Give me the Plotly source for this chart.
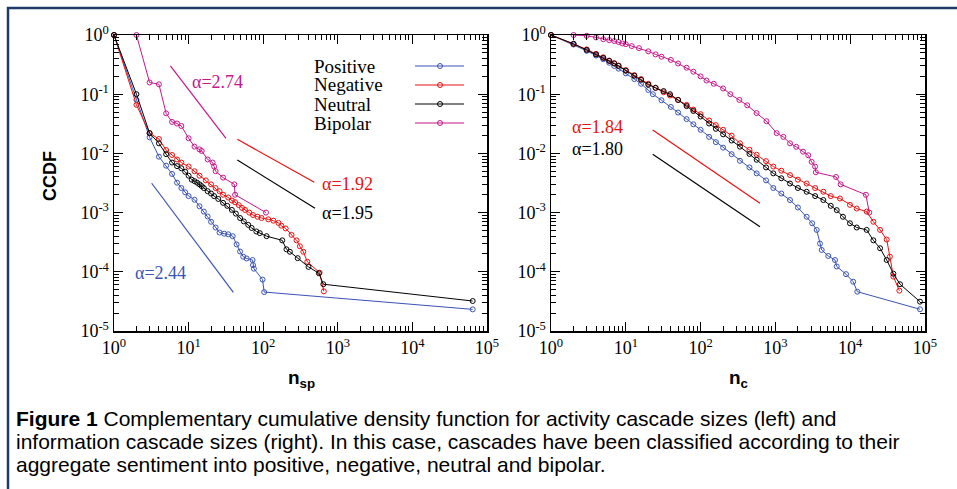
import plotly.graph_objects as go

W, H = 957, 489

# ---------------- data: left panel (activity cascades, n_sp) ----------------
sp_pos_x = [1, 2, 3, 4, 5, 6, 7, 8, 9, 10, 12, 14, 16, 18, 20, 23, 26, 30, 34, 39, 44, 49, 54, 60, 72, 73, 75, 98, 103, 64300]
sp_pos_y = [1, 0.08, 0.0187, 0.0088, 0.0062, 0.0045, 0.0032, 0.0026, 0.0022, 0.0019, 0.00165, 0.00128, 0.00104, 0.00086,
            0.0007, 0.00056, 0.00046, 0.00044, 0.00043, 0.0004, 0.00029, 0.00022, 0.00018, 0.000168, 0.000158, 0.00013,
            0.000113, 0.000074, 0.0000455, 0.0000232]

sp_neg_x = [1, 2, 3, 4, 5, 6, 7, 8, 10, 12, 14, 17, 20, 23, 26, 29, 34, 38, 42, 47, 52, 57, 65, 73, 84, 95, 117, 137,
            160, 175, 200, 240, 280, 310, 345, 390, 570, 650]
sp_neg_y = [1, 0.066, 0.022, 0.0175, 0.0114, 0.0094, 0.0079, 0.007, 0.006, 0.005, 0.0042, 0.0035, 0.003, 0.0026, 0.0023,
            0.002, 0.0018, 0.0016, 0.0015, 0.00134, 0.0012, 0.00111, 0.001, 0.00091, 0.00085, 0.00081, 0.00077, 0.00073,
            0.00067, 0.0006, 0.00054, 0.00042, 0.00034, 0.00027, 0.000218, 0.000148, 0.0000967, 0.0000468]

sp_neu_x = [1, 2, 3, 4, 5, 6, 7, 8, 9, 10, 11, 12, 13, 14, 15, 16, 18, 20, 22, 25, 29, 33, 38, 43, 49, 55, 63, 70, 81,
            90, 111, 180, 205, 228, 290, 405, 558, 640, 64300]
sp_neu_y = [1, 0.1, 0.022, 0.0148, 0.0097, 0.0070, 0.0061, 0.0056, 0.0049, 0.0042, 0.0036, 0.0034, 0.0032, 0.0030,
            0.0028, 0.0026, 0.0023, 0.0021, 0.0019, 0.0017, 0.00146, 0.0013, 0.00111, 0.00096, 0.00081, 0.00071,
            0.00062, 0.00055, 0.00048, 0.00045, 0.0004, 0.00034, 0.00024, 0.000218, 0.00017, 0.000121, 0.0000944,
            0.0000617, 0.0000321]

sp_bip_x = [2, 3, 4, 5, 6, 7, 8, 10, 12, 14, 15, 18, 21, 22, 23, 29, 41, 42, 109]
sp_bip_y = [1, 0.158, 0.147, 0.0475, 0.034, 0.032, 0.029, 0.018, 0.013, 0.0117, 0.011, 0.0079, 0.007, 0.006, 0.005,
            0.0039, 0.003, 0.002, 0.001]

# fitted power laws (left)
fit_sp_bip_x, fit_sp_bip_y = [5.7, 31.7], [0.30, 0.018]
fit_sp_neg_x, fit_sp_neg_y = [45, 484], [0.0173, 0.00325]
fit_sp_neu_x, fit_sp_neu_y = [45, 495], [0.00774, 0.00118]
fit_sp_pos_x, fit_sp_pos_y = [3.2, 39.8], [0.00313, 0.000045]

# ---------------- data: right panel (information cascades, n_c) ----------------
c_pos_x = [1, 2, 3, 4, 5, 6, 7, 8, 10, 13, 16, 20, 23, 30, 40, 50, 65, 80, 100, 130, 160, 200, 260, 336, 450, 562, 750,
           938, 1200, 1567, 2000, 2618, 3100, 3565, 3945, 4159, 5093, 6266, 6607, 8790, 10965, 12445, 85700]
c_pos_y = [1, 0.69, 0.54, 0.45, 0.39, 0.34, 0.30, 0.27, 0.225, 0.18, 0.15, 0.118, 0.1, 0.079, 0.061, 0.049, 0.038,
           0.031, 0.025, 0.019, 0.0155, 0.0125, 0.0097, 0.0075, 0.0058, 0.0046, 0.0035, 0.0026, 0.0021, 0.00163,
           0.00122, 0.00085, 0.00066, 0.00051, 0.0003, 0.000234, 0.000185, 0.000158, 0.000123, 0.0000912, 0.000068,
           0.0000461, 0.0000233]

c_neg_x = [1, 2, 3, 4, 5, 6, 7, 8, 10, 13, 16, 20, 25, 32, 39, 50, 65, 80, 100, 130, 160, 200, 260, 336, 450, 562, 750,
           938, 1200, 1567, 2000, 2618, 3400, 4375, 5500, 7300, 9931, 12220, 16600, 20400, 25100, 30760, 33900, 37760,
           45400]
c_neg_y = [1, 0.71, 0.57, 0.48, 0.42, 0.37, 0.335, 0.305, 0.255, 0.21, 0.18, 0.15, 0.128, 0.108, 0.095, 0.08, 0.066,
           0.055, 0.046, 0.036, 0.03, 0.025, 0.02, 0.0148, 0.0115, 0.0095, 0.0074, 0.006, 0.0051, 0.0043, 0.0036,
           0.0031, 0.0026, 0.00225, 0.0019, 0.00173, 0.00135, 0.00117, 0.00104, 0.0007, 0.00051, 0.00035, 0.00018,
           0.000083, 0.000048]

c_neu_x = [1, 2, 3, 4, 5, 6, 7, 8, 10, 13, 16, 20, 25, 32, 39, 50, 65, 80, 100, 130, 160, 200, 260, 336, 450, 562, 750,
           938, 1200, 1567, 2000, 2618, 3400, 4375, 5500, 6607, 8000, 9931, 12220, 16600, 20400, 25100, 30760, 37760,
           46350, 85700]
c_neu_y = [1, 0.71, 0.56, 0.47, 0.41, 0.365, 0.33, 0.30, 0.25, 0.205, 0.175, 0.145, 0.128, 0.113, 0.1, 0.08, 0.063,
           0.052, 0.042, 0.032, 0.026, 0.021, 0.0165, 0.013, 0.0098, 0.0078, 0.0058, 0.0046, 0.0038, 0.0031, 0.0026,
           0.00225, 0.0019, 0.00163, 0.0013, 0.0011, 0.00085, 0.00066, 0.00056, 0.00051, 0.00034, 0.00025, 0.000158,
           0.000093, 0.0000617, 0.0000313]

c_bip_x = [2, 3, 4, 5, 6, 7, 8, 9, 10, 12, 15, 20, 25, 30, 40, 50, 65, 80, 100, 120, 150, 200, 250, 330, 420, 560, 760,
           1040, 1280, 1570, 1900, 2340, 2750, 3050, 3390, 3470, 6460, 7460, 16200, 18000]
c_bip_y = [1.0, 0.97, 0.91, 0.85, 0.82, 0.79, 0.76, 0.72, 0.70, 0.65, 0.60, 0.53, 0.47, 0.43, 0.38, 0.33, 0.28, 0.24,
           0.20, 0.17, 0.15, 0.125, 0.10, 0.08, 0.065, 0.048, 0.035, 0.022, 0.019, 0.0148, 0.0129, 0.0107, 0.0093,
           0.0072, 0.006, 0.0048, 0.004, 0.003, 0.002, 0.001]

# fitted power laws (right)
fit_c_neg_x, fit_c_neg_y = [22.9, 622], [0.0248, 0.001435]
fit_c_neu_x, fit_c_neu_y = [22.9, 622], [0.00966, 0.000578]

series_names = ["Positive", "Negative", "Neutral", "Bipolar"]
x_tick_vals = [1, 10, 100, 1000, 10000, 100000]
x_tick_text = ["10<sup>0</sup>", "10<sup>1</sup>", "10<sup>2</sup>", "10<sup>3</sup>", "10<sup>4</sup>", "10<sup>5</sup>"]
y_tick_vals = [1e-5, 1e-4, 1e-3, 1e-2, 1e-1, 1]
y_tick_text = ["10<sup>-5</sup>", "10<sup>-4</sup>", "10<sup>-3</sup>", "10<sup>-2</sup>", "10<sup>-1</sup>", "10<sup>0</sup>"]

# ---------------- styling ----------------
C_POS = "#3a53b4"
C_NEG = "#ee1010"
C_NEU = "#000000"
C_BIP = "#c8168c"
colors = [C_POS, C_NEG, C_NEU, C_BIP]
SERIF = "Liberation Serif"
SANS = "Liberation Sans"


def pxx(x):
    return x / W


def pyy(y):
    return 1 - y / H


fig = go.Figure()


def add_series(x, y, color, xa, ya):
    fig.add_trace(go.Scatter(
        x=x, y=y, mode="lines+markers", xaxis=xa, yaxis=ya, showlegend=False, cliponaxis=False,
        line=dict(color=color, width=1),
        marker=dict(symbol="circle-open", size=5, color=color, line=dict(width=1, color=color)),
    ))


def add_fit(x, y, color, xa, ya):
    fig.add_trace(go.Scatter(
        x=x, y=y, mode="lines", xaxis=xa, yaxis=ya, showlegend=False,
        line=dict(color=color, width=1.2),
    ))


# left panel
add_fit(fit_sp_bip_x, fit_sp_bip_y, C_BIP, "x", "y")
add_fit(fit_sp_neg_x, fit_sp_neg_y, C_NEG, "x", "y")
add_fit(fit_sp_neu_x, fit_sp_neu_y, C_NEU, "x", "y")
add_fit(fit_sp_pos_x, fit_sp_pos_y, C_POS, "x", "y")
add_series(sp_pos_x, sp_pos_y, C_POS, "x", "y")
add_series(sp_neg_x, sp_neg_y, C_NEG, "x", "y")
add_series(sp_neu_x, sp_neu_y, C_NEU, "x", "y")
add_series(sp_bip_x, sp_bip_y, C_BIP, "x", "y")

# right panel
add_fit(fit_c_neg_x, fit_c_neg_y, C_NEG, "x2", "y2")
add_fit(fit_c_neu_x, fit_c_neu_y, C_NEU, "x2", "y2")
add_series(c_bip_x, c_bip_y, C_BIP, "x2", "y2")
add_series(c_pos_x, c_pos_y, C_POS, "x2", "y2")
add_series(c_neg_x, c_neg_y, C_NEG, "x2", "y2")
add_series(c_neu_x, c_neu_y, C_NEU, "x2", "y2")

x_minor = [m * 10 ** k for k in range(0, 5) for m in range(2, 10)]
y_minor = [m * 10.0 ** k for k in range(-5, 0) for m in range(2, 10)]

axis_common = dict(
    type="log", showline=True, linecolor="black", linewidth=1.5, mirror="ticks",
    ticks="inside", ticklen=9, tickwidth=1.2, tickcolor="black", showgrid=False, zeroline=False,
    tickfont=dict(family=SERIF, size=18, color="black"), tickmode="array", fixedrange=True,
    automargin=False,
)


def xaxis(domain, anchor):
    return dict(axis_common, domain=domain, anchor=anchor, range=[0, 5],
                tickvals=x_tick_vals, ticktext=x_tick_text,
                minor=dict(ticks="inside", ticklen=5, tickwidth=1, tickcolor="black",
                           tickmode="array", tickvals=x_minor, showgrid=False))


def yaxis(domain, anchor):
    return dict(axis_common, domain=domain, anchor=anchor, range=[-5, 0],
                tickvals=y_tick_vals, ticktext=y_tick_text,
                minor=dict(ticks="inside", ticklen=5, tickwidth=1, tickcolor="black",
                           tickmode="array", tickvals=y_minor, showgrid=False))


ydom = [pyy(331), pyy(35)]
fig.update_layout(
    width=W, height=H, margin=dict(l=0, r=0, t=0, b=0, autoexpand=False),
    paper_bgcolor="white", plot_bgcolor="white",
    xaxis=xaxis([pxx(114), pxx(487)], "y"),
    yaxis=yaxis(ydom, "x"),
    xaxis2=xaxis([pxx(551), pxx(925)], "y2"),
    yaxis2=yaxis(ydom, "x2"),
)

ann = []


def text(x, y, s, size=18, color="black", family=SERIF, xanchor="center", textangle=0):
    ann.append(dict(x=pxx(x), y=pyy(y), xref="paper", yref="paper", text=s, showarrow=False,
                    xanchor=xanchor, yanchor="middle", textangle=textangle,
                    font=dict(family=family, size=size, color=color)))


# alpha labels
text(190, 82, "α=2.74", color=C_BIP, xanchor="left")
text(320, 184, "α=1.92", color=C_NEG, xanchor="left")
text(320, 213, "α=1.95", color=C_NEU, xanchor="left")
text(133, 273, "α=2.44", color=C_POS, xanchor="left")
text(570, 127, "α=1.84", color=C_NEG, xanchor="left")
text(570, 149, "α=1.80", color=C_NEU, xanchor="left")

# legend
shapes = []
for i, (name, col) in enumerate(zip(series_names, colors)):
    yy = 66 + 19 * i
    text(312, yy, name, size=19, xanchor="left")
    shapes.append(dict(type="line", xref="paper", yref="paper", x0=pxx(415), x1=pxx(464), y0=pyy(yy), y1=pyy(yy),
                       line=dict(color=col, width=1.2)))
    shapes.append(dict(type="circle", xref="paper", yref="paper", x0=pxx(437.5), x1=pxx(442.5),
                       y0=pyy(yy + 2.5), y1=pyy(yy - 2.5), line=dict(color=col, width=1)))

# axis titles
text(50, 176, "<b>CCDF</b>", size=18, family=SANS, textangle=-90)
text(301, 379, "<b>n<sub>sp</sub></b>", size=19, family=SANS)
text(738, 379, "<b>n<sub>c</sub></b>", size=19, family=SANS)

# caption
cap = ["<b>Figure 1</b> Complementary cumulative density function for activity cascade sizes (left) and",
       "information cascade sizes (right). In this case, cascades have been classified according to their",
       "aggregate sentiment into positive, negative, neutral and bipolar."]
for i, line in enumerate(cap):
    text(14, 418 + 23 * i, line, size=21, family=SANS, xanchor="left")

# frame
NAVY = "#1d3a68"
shapes.append(dict(type="line", xref="paper", yref="paper", x0=pxx(7), x1=1.0, y0=pyy(8), y1=pyy(8),
                   line=dict(color=NAVY, width=2.5)))
shapes.append(dict(type="line", xref="paper", yref="paper", x0=pxx(8), x1=pxx(8), y0=pyy(7), y1=0.0,
                   line=dict(color=NAVY, width=2.5)))

fig.update_layout(annotations=ann, shapes=shapes)
fig.write_html("out.html",
               config={"displayModeBar": False, "staticPlot": True},
               post_script="document.body.style.margin='0';document.body.style.padding='0';"
                           "document.body.style.overflow='hidden';")
